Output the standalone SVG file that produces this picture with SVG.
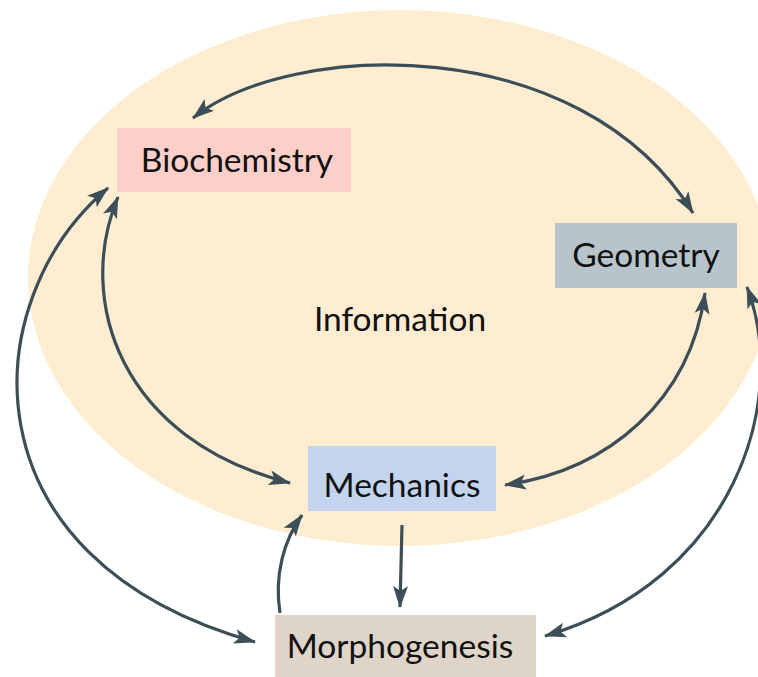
<svg xmlns="http://www.w3.org/2000/svg" width="758" height="677" viewBox="0 0 758 677">
<style>
.lbl{font-family:Lato,"Open Sans","DejaVu Sans",sans-serif;font-size:33.5px;fill:#111;}
.edge{fill:none;stroke:#3C4E58;stroke-width:3.2;}
</style>
<defs>
<marker id="ah" markerUnits="userSpaceOnUse" markerWidth="22" markerHeight="18" viewBox="0 0 22 18" refX="21" refY="9" orient="auto-start-reverse">
<path d="M0,1.5 L22,9 L0,16.5 L5,9 z" fill="#3C4E58"/>
</marker>
</defs>
<rect width="758" height="677" fill="#fff"/>
<ellipse cx="400" cy="278" rx="372" ry="268" fill="#FEEDD0"/>
<text class="lbl" x="400" y="331" text-anchor="middle">Information</text>
<g id="connectors">
<path class="edge" d="M193,118 C290,40 580,30 693,213" marker-start="url(#ah)" marker-end="url(#ah)"/>
<path class="edge" d="M118,197 C75,300 120,440 290,483" marker-start="url(#ah)" marker-end="url(#ah)"/>
<path class="edge" d="M108,188 C-25,300 -40,560 255,642" marker-start="url(#ah)" marker-end="url(#ah)"/>
<path class="edge" d="M705,293 C690,400 610,470 505,485" marker-start="url(#ah)" marker-end="url(#ah)"/>
<path class="edge" d="M747,287 C790,400 735,580 545,636" marker-start="url(#ah)" marker-end="url(#ah)"/>
<path class="edge" d="M280,613 C274,575 284,540 302,515" marker-end="url(#ah)"/>
<path class="edge" d="M402,525 L400,607" marker-end="url(#ah)"/>
</g>
<g id="biochemistry">
<rect x="117" y="128" width="234" height="64" fill="#FCCFC9"/>
<text class="lbl" x="237" y="172" text-anchor="middle">Biochemistry</text>
</g>
<g id="geometry">
<rect x="555" y="223" width="182" height="65" fill="#B7C4CC"/>
<text class="lbl" x="646" y="267" text-anchor="middle">Geometry</text>
</g>
<g id="mechanics">
<rect x="308" y="446" width="188" height="65" fill="#C2D4EE"/>
<text class="lbl" x="402" y="497" text-anchor="middle">Mechanics</text>
</g>
<g id="morphogenesis">
<rect x="275" y="615" width="261" height="62" fill="#DED5C8"/>
<text class="lbl" x="400" y="658" text-anchor="middle">Morphogenesis</text>
</g>
</svg>
